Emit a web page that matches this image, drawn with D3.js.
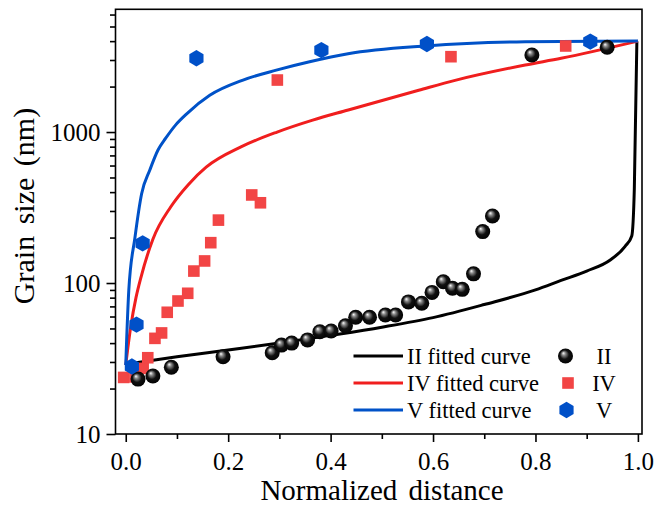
<!DOCTYPE html>
<html>
<head>
<meta charset="utf-8">
<script src="https://cdn.jsdelivr.net/npm/d3@7"></script>
<style>
  html, body { margin: 0; padding: 0; background: #fff; }
  svg text { font-family: "Times New Roman", "Liberation Serif", "DejaVu Serif", Times, serif; }
</style>
</head>
<body>
<script>
const width = 656;
const height = 509;
const margin = {top: 9.3, right: 14, bottom: 75, left: 115.5};
const serif = '"Times New Roman", "Liberation Serif", "DejaVu Serif", Times, serif';

// measured points, sample II
const iiX = [0.024, 0.053, 0.089, 0.190, 0.286, 0.304, 0.324, 0.355, 0.379, 0.401, 0.429, 0.449, 0.476,
             0.507, 0.527, 0.552, 0.578, 0.598, 0.620, 0.638, 0.657, 0.679, 0.697, 0.716, 0.793, 0.940];
const iiY = [23.1, 24.2, 27.7, 32.5, 34.5, 38.8, 40, 42, 47.6, 48.1, 52.1, 59.3, 59.3,
             61.4, 61.4, 75, 73.4, 86.7, 102, 92.3, 90.8, 115, 219, 278, 3240, 3640];

// sample IV
const ivX = [-0.004, 0.018, 0.034, 0.043, 0.057, 0.070, 0.081, 0.102, 0.121, 0.133, 0.154, 0.166,
             0.181, 0.246, 0.263, 0.296, 0.635, 0.859];
const ivY = [23.7, 23.9, 27.2, 32, 43, 46.7, 64, 76, 85.5, 120, 140, 185, 261, 383, 340, 2210, 3155, 3715];

// sample V
const vX = [0.012, 0.021, 0.033, 0.138, 0.382, 0.588, 0.907];
const vY = [28, 53, 183, 3080, 3490, 3830, 3970];

// fitted curves
const fitIIX = [0, 0.1, 0.2, 0.3, 0.4, 0.5, 0.6, 0.7, 0.8, 0.85, 0.9, 0.946, 0.975, 0.988, 0.993, 0.998];
const fitIIY = [29, 32.5, 36, 40, 45, 51, 59, 72, 90, 104, 120, 142, 175, 205, 420, 4000];

const fitIVX = [0, 0.01, 0.02, 0.03, 0.053, 0.088, 0.1225, 0.157, 0.226, 0.2955, 0.365, 0.4345, 0.572, 0.643, 0.78, 0.85, 1.0];
const fitIVY = [28.6, 52, 80, 110, 195, 320, 450, 585, 800, 1000, 1200, 1400, 1890, 2200, 2780, 3080, 4000];

const fitVX = [0, 0.006, 0.018, 0.031, 0.047, 0.063, 0.078, 0.098, 0.119, 0.164, 0.229, 0.294, 0.359, 0.434, 0.586, 0.78, 1.0];
const fitVY = [28.6, 90, 200, 390, 560, 760, 910, 1120, 1320, 1750, 2210, 2570, 2920, 3300, 3715, 3960, 4006];

const xMajor = [0, 0.2, 0.4, 0.6, 0.8, 1.0];
const xMinor = [0.1, 0.3, 0.5, 0.7, 0.9];
const yMajor = [10, 100, 1000];
const yMinor = [20, 30, 40, 50, 60, 70, 80, 90, 200, 300, 400, 500, 600, 700, 800, 900,
                2000, 3000, 4000, 5000, 6000];

const legendItems = ['II', 'IV', 'V'];
const colors = {II: '#000000', IV: '#f01e1e', V: '#0052c8'};
const markerColors = {IV: '#f24545', V: '#0050c8'};

const svg = d3.select('body').append('svg')
    .attr('width', width)
    .attr('height', height)
    .attr('font-family', serif);

const x = d3.scaleLinear().domain([-0.02, 1.008]).range([margin.left, width - margin.right]);
const y = d3.scaleLog().domain([10, 6500]).range([height - margin.bottom, margin.top]);

const defs = svg.append('defs');
const grad = defs.append('radialGradient').attr('id', 'ball')
    .attr('cx', '0.5').attr('cy', '0.5').attr('r', '0.55')
    .attr('fx', '0.35').attr('fy', '0.3');
grad.append('stop').attr('offset', '0').attr('stop-color', '#ffffff');
grad.append('stop').attr('offset', '0.22').attr('stop-color', '#8a8a8a');
grad.append('stop').attr('offset', '0.55').attr('stop-color', '#111');
grad.append('stop').attr('offset', '1').attr('stop-color', '#000');

defs.append('clipPath').attr('id', 'plot')
    .append('rect')
    .attr('x', margin.left).attr('y', margin.top)
    .attr('width', width - margin.left - margin.right)
    .attr('height', height - margin.top - margin.bottom);

// fitted curves
const line = d3.line().x(d => x(d[0])).y(d => y(d[1])).curve(d3.curveMonotoneX);
const curves = [
    {key: 'II', xs: fitIIX, ys: fitIIY},
    {key: 'IV', xs: fitIVX, ys: fitIVY},
    {key: 'V', xs: fitVX, ys: fitVY}
];
svg.append('g').attr('clip-path', 'url(#plot)')
    .selectAll('path')
    .data(curves)
    .enter().append('path')
    .attr('fill', 'none')
    .attr('stroke', d => colors[d.key])
    .attr('stroke-width', 3)
    .attr('stroke-linejoin', 'round')
    .attr('d', d => line(d.xs.map((v, i) => [v, d.ys[i]])));

// markers
const hexPath = r => {
    const pts = d3.range(6).map(i => {
        const a = Math.PI / 3 * i - Math.PI / 2;
        return [r * Math.cos(a), r * Math.sin(a)];
    });
    return 'M' + pts.map(p => p.join(',')).join('L') + 'Z';
};

function drawBall(g, cx, cy) {
    g.append('circle').attr('cx', cx).attr('cy', cy).attr('r', 7.5).attr('fill', 'url(#ball)');
}
function drawSquare(g, cx, cy) {
    g.append('rect').attr('x', cx - 5.8).attr('y', cy - 5.8)
        .attr('width', 11.6).attr('height', 11.6).attr('fill', markerColors.IV);
}
function drawHex(g, cx, cy) {
    g.append('path').attr('transform', `translate(${cx},${cy})`)
        .attr('d', hexPath(8.2)).attr('fill', markerColors.V);
}

const pts = svg.append('g').classed('points', true);
ivX.forEach((v, i) => drawSquare(pts, x(v), y(ivY[i])));
iiX.forEach((v, i) => drawBall(pts, x(v), y(iiY[i])));
vX.forEach((v, i) => drawHex(pts, x(v), y(vY[i])));

// frame
svg.append('rect')
    .attr('x', margin.left).attr('y', margin.top)
    .attr('width', width - margin.left - margin.right)
    .attr('height', height - margin.top - margin.bottom)
    .attr('fill', 'none').attr('stroke', '#000').attr('stroke-width', 1.6);

// axes
const xAxis = svg.append('g')
    .attr('transform', `translate(0,${height - margin.bottom})`)
    .call(d3.axisBottom(x).tickValues(xMajor).tickSize(8).tickPadding(10).tickFormat(d3.format('.1f')));
const xAxisMinor = svg.append('g')
    .attr('transform', `translate(0,${height - margin.bottom})`)
    .call(d3.axisBottom(x).tickValues(xMinor).tickSize(5).tickFormat(''));
const yAxis = svg.append('g')
    .attr('transform', `translate(${margin.left},0)`)
    .call(d3.axisLeft(y).tickValues(yMajor).tickSize(9).tickPadding(6).tickFormat(d3.format('d')));
const yAxisMinor = svg.append('g')
    .attr('transform', `translate(${margin.left},0)`)
    .call(d3.axisLeft(y).tickValues(yMinor).tickSize(5.5).tickFormat(''));

[xAxis, xAxisMinor, yAxis, yAxisMinor].forEach(a => {
    a.attr('font-family', serif).attr('font-size', 25);
    a.select('.domain').remove();
    a.selectAll('.tick line').attr('stroke', '#000').attr('stroke-width', 1.6);
    a.selectAll('.tick text').attr('fill', '#000');
});

// axis titles
svg.append('text')
    .attr('x', 382).attr('y', 500)
    .attr('text-anchor', 'middle')
    .attr('font-size', 29)
    .attr('word-spacing', '4px')
    .text('Normalized distance');

svg.append('text')
    .attr('transform', 'translate(34,206) rotate(-90)')
    .attr('text-anchor', 'middle')
    .attr('font-size', 30)
    .attr('word-spacing', '4px')
    .text('Grain size (nm)');

// legend
const legendY = [356, 383, 410];
const legend = svg.append('g').classed('legend', true);
legendItems.forEach((k, i) => {
    const ly = legendY[i];
    legend.append('line')
        .attr('x1', 353.5).attr('x2', 403).attr('y1', ly).attr('y2', ly)
        .attr('stroke', colors[k]).attr('stroke-width', 3);
    legend.append('text')
        .attr('x', 407).attr('y', ly).attr('dy', '0.34em')
        .attr('font-size', 22.5)
        .text(k + ' fitted curve');
    if (k === 'II') drawBall(legend, 565.5, ly);
    else if (k === 'IV') drawSquare(legend, 568, ly);
    else drawHex(legend, 566.5, ly);
    legend.append('text')
        .attr('x', 604).attr('y', ly).attr('dy', '0.34em')
        .attr('text-anchor', 'middle')
        .attr('font-size', 22.5)
        .text(k);
});
</script>
</body>
</html>
